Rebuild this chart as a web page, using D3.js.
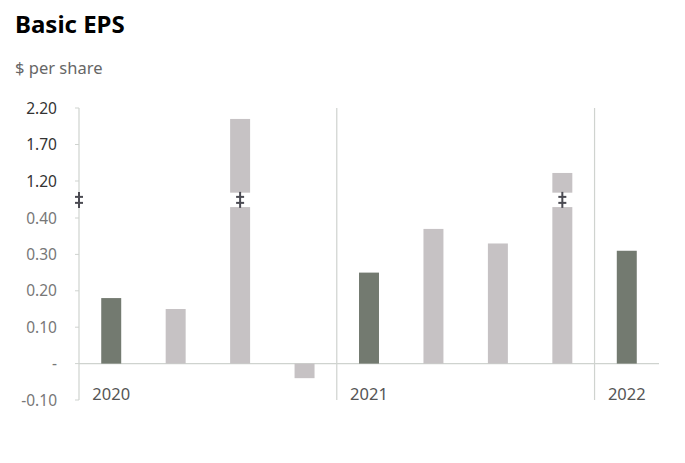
<!DOCTYPE html>
<html>
<head>
<meta charset="utf-8">
<script src="https://cdn.jsdelivr.net/npm/d3@7"></script>
<style>
  body { margin: 0; background: #fff; }
  svg { display: block; font-family: "Noto Sans", sans-serif; }
</style>
</head>
<body>
<svg id="chart" width="685" height="463"></svg>
<script>
// ---- data ----
const quarters = ["2020Q1","2020Q2","2020Q3","2020Q4","2021Q1","2021Q2","2021Q3","2021Q4","2022Q1"];
const eps      = [0.18, 0.15, 2.05, -0.04, 0.25, 0.37, 0.33, 1.31, 0.31];
const barKind  = ["dark","light","light","light","dark","light","light","light","dark"];
const years      = ["2020","2021","2022"];
const yearStart  = ["2020Q1","2021Q1","2022Q1"];
const lowerTicks = [-0.1, 0, 0.1, 0.2, 0.3, 0.4];
const lowerTickLabels = ["-0.10","-","0.10","0.20","0.30","0.40"];
const upperTicks = [1.2, 1.7, 2.2];
const upperTickLabels = ["1.20","1.70","2.20"];
const breakLow = 0.43, breakHigh = 1.04;   // axis break span
const titleText = "Basic EPS", subtitleText = "$ per share";

// ---- layout ----
(function () {
const svg = d3.select("#chart");
const plotLeft = 79, plotRight = 659, plotTop = 108, plotBottom = 400;
const lowerTop = 218, upperBottom = 181;
const colors = { dark: "#737a70", light: "#c6c2c4" };

const x = d3.scaleBand().domain(quarters).range([plotLeft, plotRight]).paddingInner(0.69).paddingOuter(0.345);
const yLow = d3.scaleLinear().domain([-0.1, 0.4]).range([plotBottom, lowerTop]);
const yUp  = d3.scaleLinear().domain([1.2, 2.2]).range([upperBottom, plotTop]);

svg.append("text").attr("x", 15).attr("y", 33).attr("font-size", 24).attr("font-weight", 700)
   .attr("fill", "#000").text(titleText);
svg.append("text").attr("x", 15).attr("y", 74).attr("font-size", 16.5).attr("fill", "#666").text(subtitleText);

const gridColor = "#cfd3cf";
svg.append("line").attr("x1", plotLeft).attr("x2", plotLeft).attr("y1", plotTop).attr("y2", plotBottom)
   .attr("stroke", gridColor).attr("stroke-width", 1.2);
yearStart.slice(1).forEach(q => {
  const sep = x(q) - (x.step() - x.bandwidth()) / 2;
  svg.append("line").attr("x1", sep).attr("x2", sep).attr("y1", plotTop).attr("y2", plotBottom)
     .attr("stroke", gridColor).attr("stroke-width", 1.2);
});

const tickG = svg.append("g");
lowerTicks.forEach((t, i) => {
  tickG.append("line").attr("x1", plotLeft - 4).attr("x2", plotLeft).attr("y1", yLow(t)).attr("y2", yLow(t)).attr("stroke", gridColor);
  tickG.append("text").attr("x", 57).attr("y", yLow(t)).attr("dy", "0.36em").attr("text-anchor", "end")
       .attr("font-size", 15.5).attr("fill", "#777").text(lowerTickLabels[i]);
});
upperTicks.forEach((t, i) => {
  tickG.append("line").attr("x1", plotLeft - 4).attr("x2", plotLeft).attr("y1", yUp(t)).attr("y2", yUp(t)).attr("stroke", gridColor);
  tickG.append("text").attr("x", 57).attr("y", yUp(t)).attr("dy", "0.36em").attr("text-anchor", "end")
       .attr("font-size", 15.5).attr("fill", "#333").text(upperTickLabels[i]);
});

svg.append("line").attr("x1", plotLeft).attr("x2", plotRight).attr("y1", yLow(0)).attr("y2", yLow(0))
   .attr("stroke", gridColor).attr("stroke-width", 1.2);

const data = quarters.map((q, i) => ({ q, v: eps[i], kind: barKind[i] }));
const barG = svg.append("g");
data.forEach(d => {
  const fill = colors[d.kind];
  if (d.v > breakHigh) {
    barG.append("rect").attr("x", x(d.q)).attr("width", x.bandwidth())
        .attr("y", yLow(breakLow)).attr("height", yLow(0) - yLow(breakLow)).attr("fill", fill);
    barG.append("rect").attr("x", x(d.q)).attr("width", x.bandwidth())
        .attr("y", yUp(d.v)).attr("height", yUp(breakHigh) - yUp(d.v)).attr("fill", fill);
  } else {
    barG.append("rect").attr("x", x(d.q)).attr("width", x.bandwidth())
        .attr("y", yLow(Math.max(0, d.v))).attr("height", Math.abs(yLow(d.v) - yLow(0))).attr("fill", fill);
  }
});

const breakY = (yLow(breakLow) + yUp(breakHigh)) / 2;
function breakMark(cx) {
  const g = svg.append("g").attr("stroke", "#4a4a52").attr("stroke-width", 2);
  g.append("line").attr("x1", cx).attr("x2", cx).attr("y1", breakY - 8).attr("y2", breakY + 8);
  g.append("line").attr("x1", cx - 4).attr("x2", cx + 4).attr("y1", breakY - 3).attr("y2", breakY - 3);
  g.append("line").attr("x1", cx - 4).attr("x2", cx + 4).attr("y1", breakY + 3).attr("y2", breakY + 3);
}
breakMark(plotLeft);
data.filter(d => d.v > breakHigh).forEach(d => breakMark(x(d.q) + x.bandwidth() / 2));

years.forEach((yr, i) => {
  svg.append("text").attr("x", x(yearStart[i]) + x.bandwidth() / 2).attr("y", 400)
     .attr("text-anchor", "middle").attr("font-size", 16.5).attr("fill", "#555").text(yr);
});
})();
</script>
</body>
</html>
